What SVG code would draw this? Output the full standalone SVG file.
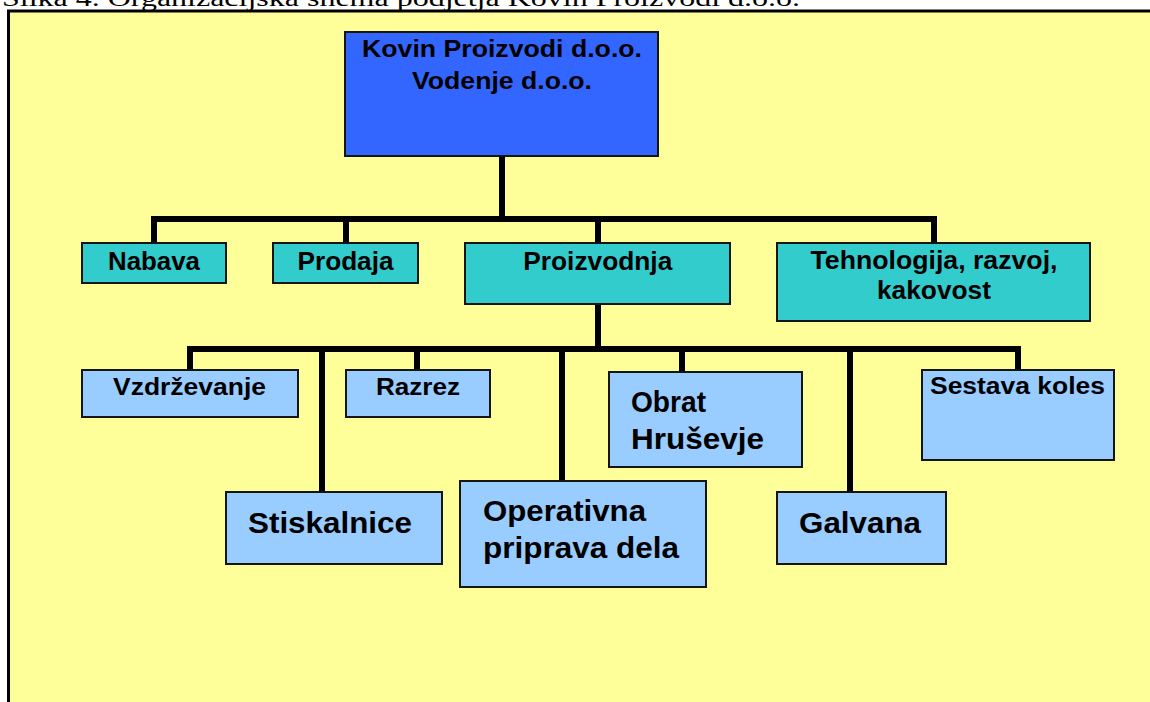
<svg xmlns="http://www.w3.org/2000/svg" width="1150" height="702" viewBox="0 0 1150 702">
<defs>
<style>
.bg{fill:#FFFF99;stroke:#000;stroke-width:3}
.box{stroke:#151515;stroke-width:2}
.root{fill:#3366FF}
.l1{fill:#33CCCC}
.l2{fill:#99CCFF}
.t{font-family:"Liberation Sans",Arial,sans-serif;font-weight:bold;fill:#000}
.conn{fill:none;stroke:#000;stroke-width:6;stroke-linejoin:miter}
.cap{font-family:"Liberation Serif","Times New Roman",serif;fill:#000}
</style>
</defs>
<rect x="0" y="0" width="1150" height="702" fill="#fff"/>
<text class="cap" x="2" y="6" font-size="24" textLength="798" lengthAdjust="spacingAndGlyphs">Slika 4. Organizacijska shema podjetja Kovin Proizvodi d.o.o.</text>
<rect class="bg" x="8.5" y="11" width="1300" height="800"/>

<g id="connectors">
<path class="conn" d="M502 156 V219"/>
<path class="conn" d="M154 243 V219 H934 V243"/>
<path class="conn" d="M346 219 V243"/>
<path class="conn" d="M598 219 V243"/>
<path class="conn" d="M598 304 V349"/>
<path class="conn" d="M190 370 V349 H1018 V370"/>
<path class="conn" d="M322 349 V492"/>
<path class="conn" d="M417 349 V370"/>
<path class="conn" d="M562 349 V481"/>
<path class="conn" d="M682 349 V372"/>
<path class="conn" d="M850 349 V492"/>
</g>

<g id="root">
<rect class="box root" x="345" y="32" width="313" height="124"/>
<text class="t" x="502" y="57" font-size="23.5" text-anchor="middle" textLength="280" lengthAdjust="spacingAndGlyphs">Kovin Proizvodi d.o.o.</text>
<text class="t" x="502" y="89" font-size="23.5" text-anchor="middle" textLength="180" lengthAdjust="spacingAndGlyphs">Vodenje d.o.o.</text>
</g>

<g id="nabava">
<rect class="box l1" x="82" y="243" width="144" height="40"/>
<text class="t" x="154" y="270" font-size="25" text-anchor="middle" textLength="92" lengthAdjust="spacingAndGlyphs">Nabava</text>
</g>
<g id="prodaja">
<rect class="box l1" x="273" y="243" width="145" height="40"/>
<text class="t" x="345.5" y="270" font-size="25" text-anchor="middle" textLength="96" lengthAdjust="spacingAndGlyphs">Prodaja</text>
</g>
<g id="proizvodnja">
<rect class="box l1" x="465" y="243" width="265" height="61"/>
<text class="t" x="597.8" y="270" font-size="25" text-anchor="middle" textLength="149" lengthAdjust="spacingAndGlyphs">Proizvodnja</text>
</g>
<g id="tehnologija">
<rect class="box l1" x="777" y="243" width="313" height="78"/>
<text class="t" x="934" y="269" font-size="26" text-anchor="middle" textLength="247" lengthAdjust="spacingAndGlyphs">Tehnologija, razvoj,</text>
<text class="t" x="934" y="299" font-size="26" text-anchor="middle" textLength="114" lengthAdjust="spacingAndGlyphs">kakovost</text>
</g>

<g id="vzdrzevanje">
<rect class="box l2" x="82" y="370" width="216" height="47"/>
<text class="t" x="189.5" y="395" font-size="24" text-anchor="middle" textLength="153" lengthAdjust="spacingAndGlyphs">Vzdrževanje</text>
</g>
<g id="razrez">
<rect class="box l2" x="346" y="370" width="144" height="47"/>
<text class="t" x="418" y="395" font-size="24" text-anchor="middle" textLength="84" lengthAdjust="spacingAndGlyphs">Razrez</text>
</g>
<g id="stiskalnice">
<rect class="box l2" x="226" y="492" width="216" height="72"/>
<text class="t" x="248" y="533" font-size="30" textLength="164" lengthAdjust="spacingAndGlyphs">Stiskalnice</text>
</g>
<g id="operativna">
<rect class="box l2" x="460" y="481" width="246" height="106"/>
<text class="t" x="483" y="521" font-size="29" textLength="163" lengthAdjust="spacingAndGlyphs">Operativna</text>
<text class="t" x="483" y="558" font-size="29" textLength="196" lengthAdjust="spacingAndGlyphs">priprava dela</text>
</g>
<g id="obrat">
<rect class="box l2" x="609" y="372" width="193" height="95"/>
<text class="t" x="631" y="412" font-size="29" textLength="75" lengthAdjust="spacingAndGlyphs">Obrat</text>
<text class="t" x="631" y="449" font-size="29" textLength="133" lengthAdjust="spacingAndGlyphs">Hruševje</text>
</g>
<g id="galvana">
<rect class="box l2" x="777" y="492" width="169" height="72"/>
<text class="t" x="799" y="533" font-size="30" textLength="122" lengthAdjust="spacingAndGlyphs">Galvana</text>
</g>
<g id="sestava">
<rect class="box l2" x="922" y="370" width="192" height="90"/>
<text class="t" x="930" y="394" font-size="23" textLength="175" lengthAdjust="spacingAndGlyphs">Sestava koles</text>
</g>
</svg>
